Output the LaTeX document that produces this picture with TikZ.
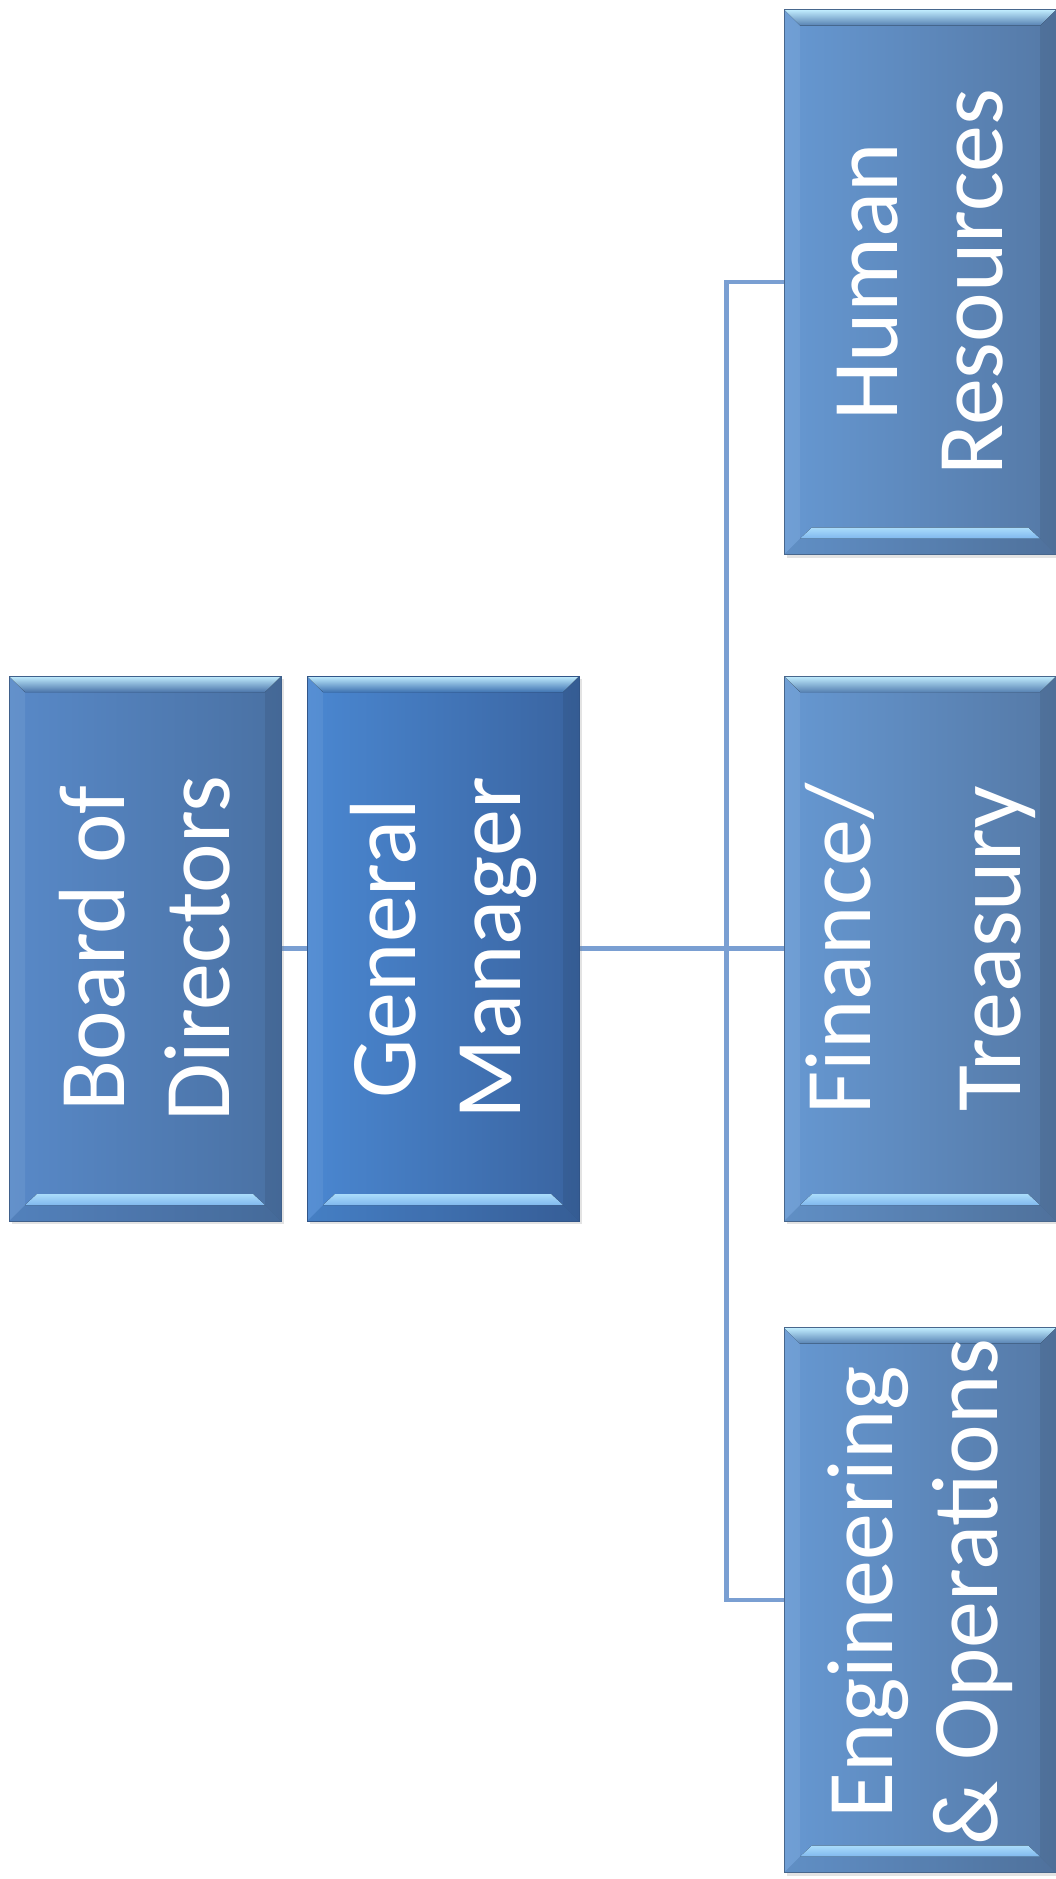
\documentclass[tikz,border=0pt]{standalone}
\usepackage{fontspec}
\setmainfont{Carlito}
\usetikzlibrary{calc,shadows}
\definecolor{connc}{HTML}{7A9FD2}
\definecolor{bodL}{HTML}{5889C8}
\definecolor{bodR}{HTML}{4A71A3}
\definecolor{gmL}{HTML}{4A87D1}
\definecolor{gmR}{HTML}{3A64A0}
\definecolor{depL}{HTML}{6698D2}
\definecolor{depR}{HTML}{5579A6}
\definecolor{bevhi}{HTML}{C2EEFF}
\definecolor{bevmid}{HTML}{8CC6F2}
\definecolor{hlA}{HTML}{AADCFB}
\definecolor{hlB}{HTML}{80B8EE}
\pgfdeclarelayer{bg}
\pgfsetlayers{bg,main}
\tikzset{
  orgbox/.style 2 args={rectangle, inner sep=0pt, minimum width=272pt, minimum height=545pt,
    left color=#1, right color=#2, draw=#2!85!black, line width=0.6pt,
    drop shadow={shadow xshift=2.5pt, shadow yshift=-3pt, opacity=0.22},
    path picture={
      \fill[white, opacity=0.07] (path picture bounding box.north west) -- ([shift={(16,16)}]path picture bounding box.north west) -- ([shift={(16,-16)}]path picture bounding box.south west) -- (path picture bounding box.south west) -- cycle;
      \fill[black, opacity=0.08] (path picture bounding box.north east) -- ([shift={(-16,16)}]path picture bounding box.north east) -- ([shift={(-16,-16)}]path picture bounding box.south east) -- (path picture bounding box.south east) -- cycle;
      \fill[black, opacity=0.06] (path picture bounding box.south west) -- ([shift={(16,-16)}]path picture bounding box.south west) -- ([shift={(-16,-16)}]path picture bounding box.south east) -- (path picture bounding box.south east) -- cycle;
      \fill[top color=bevhi, middle color=bevmid, bottom color=#1!85!black] (path picture bounding box.north west) -- (path picture bounding box.north east) -- ([shift={(-16,16)}]path picture bounding box.north east) -- ([shift={(16,16)}]path picture bounding box.north west) -- cycle;
      \fill[top color=hlA, bottom color=hlB] ([shift={(16,-16)}]path picture bounding box.south west) -- ([shift={(-16,-16)}]path picture bounding box.south east) -- ([shift={(-28,-27)}]path picture bounding box.south east) -- ([shift={(28,-27)}]path picture bounding box.south west) -- cycle;
    }},
  lbl/.style={rotate=90, text=white, font=\fontsize{94}{105}\selectfont, align=center, inner sep=0pt},
  conn/.style={draw=connc, line width=4.5pt}
}
\begin{document}
\begin{tikzpicture}[x=1pt, y=-1pt]
\useasboundingbox (0,0) rectangle (1056,1879);
\begin{pgfonlayer}{bg}
\fill[white] (0,0) rectangle (1056,1879);
\end{pgfonlayer}

\node[orgbox={bodL}{bodR}] (bod) at (145,948.5) {};
\node[orgbox={gmL}{gmR}] (gm) at (443,948.5) {};
\node[orgbox={depL}{depR}] (hr) at (920,282) {};
\node[orgbox={depL}{depR}] (fin) at (920,948.5) {};
\node[orgbox={depL}{depR}] (eng) at (920,1600) {};

\node[lbl] (bodt) at (bod) {Board of\\Directors};
\node[lbl] (gmt) at (gm) {General\\Manager};
\node[lbl] (hrt) at (hr) {Human\\Resources};
\node[lbl] (fint) at (fin) {Finance/\\[45pt]Treasury};
\node[lbl] (engt) at ([yshift=8pt]eng.center) {Engineering\\\&~Operations};

\coordinate (jt) at ([xshift=-57pt]fin.west);
\begin{pgfonlayer}{bg}
\draw[conn] (bod.east) -- (gm.west);
\draw[conn] (gm.east) -- (fin.west);
\draw[conn] (hr.west) -| (jt) |- (eng.west);
\end{pgfonlayer}
\end{tikzpicture}
\end{document}
